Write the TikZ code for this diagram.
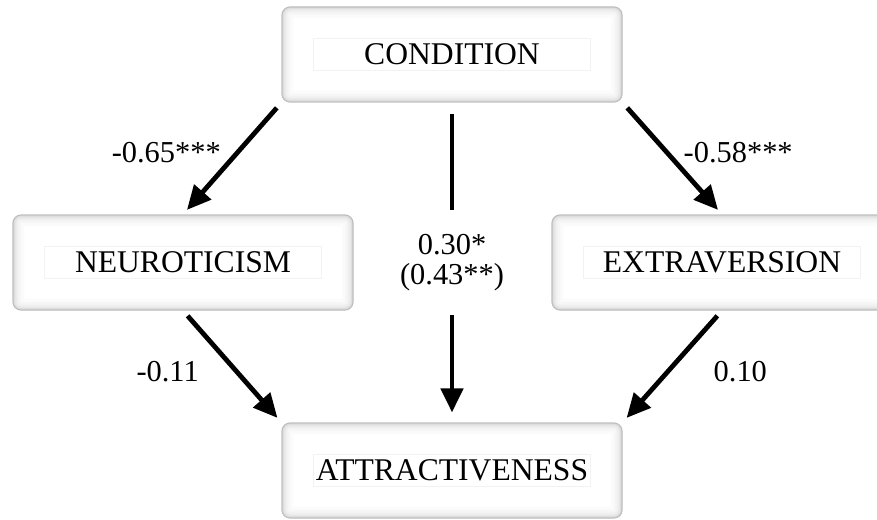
\documentclass[tikz,border=0pt]{standalone}
\usepackage{fontspec}
\setmainfont{Liberation Serif}
\usetikzlibrary{arrows.meta}

\tikzset{
  varbox/.style={draw=gray!50, line width=0.6pt, rounded corners=4pt, fill=white,
    minimum width=170pt, minimum height=47.5pt, inner sep=0pt,
    path picture={
      \foreach \w/\g in {11/3, 8/7, 5.5/12, 3.5/18, 2/26}
        \draw[gray!\g, line width=\w pt, rounded corners=4pt] (path picture bounding box.south west) rectangle (path picture bounding box.north east);
    }},
  vartext/.style={draw=gray!10, line width=0.4pt, minimum width=138.5pt, minimum height=16pt,
    inner sep=0pt, font=\fontsize{15.8}{17}\selectfont},
  effect/.style={line width=2.4pt, -{Triangle[length=12pt,width=11pt]}, shorten <=3.5pt, shorten >=3pt},
  coef/.style={font=\fontsize{15.2}{15.2}\selectfont, inner sep=2pt},
}

\begin{document}
\begin{tikzpicture}[x=0.5pt,y=-0.5pt]
\useasboundingbox (0,0) rectangle (877,519);
\clip (0,0) rectangle (877,519);

% boxes
\node[varbox] (cond) at (452,54.5) {};
\node[varbox] (neur) at (183,262.5) {};
\node[varbox] (extr) at (722,262.5) {};
\node[varbox] (attr) at (452,470.5) {};

\node[vartext] (condtxt) at (cond) {CONDITION};
\node[vartext] (neurtxt) at (neur) {NEUROTICISM};
\node[vartext] (extrtxt) at (extr) {EXTRAVERSION};
\node[vartext] (attrtxt) at (attr) {ATTRACTIVENESS};

% paths a
\draw[effect] (cond.south west) -- (neur.north) node[coef, pos=0.45, left=5pt] {-0.65***};
\draw[effect] (cond.south east) -- (extr.north) node[coef, pos=0.45, right=5pt] {-0.58***};

% paths b
\draw[effect] (neur.south) -- (attr.north west) node[coef, pos=0.55, left=16pt] {-0.11};
\draw[effect] (extr.south) -- (attr.north east) node[coef, pos=0.55, right=20pt] {0.10};

% direct path c
\draw[effect, shorten <=5.5pt, shorten >=5pt] (cond.south) -- (attr.north)
  node[coef, midway, fill=white, align=center, inner ysep=12pt] {0.30*\\(0.43**)};

\end{tikzpicture}
\end{document}
